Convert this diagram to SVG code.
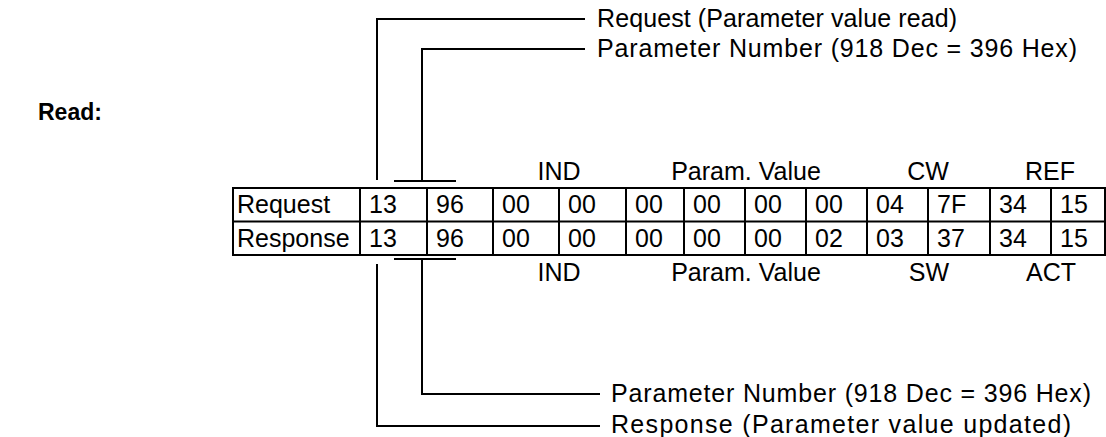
<svg xmlns="http://www.w3.org/2000/svg" width="1106" height="437" viewBox="0 0 1106 437">
<style>
text{font-family:"Liberation Sans",Arial,sans-serif;font-size:25px;fill:#000}
.b{font-weight:bold;font-size:23px}
.m{text-anchor:middle}
.ln{fill:none;stroke:#000;stroke-width:2}
</style>
<rect width="1106" height="437" fill="#fff"/>
<g id="title"><text class="b" x="38" y="120">Read:</text></g>
<g id="table">
<rect class="ln" x="233" y="188" width="872" height="67"/>
<path class="ln" d="M233,221.5H1105M360,188V255M427,188V255M493,188V255M559,188V255M626,188V255M684,188V255M745,188V255M806,188V255M867,188V255M928,188V255M990,188V255M1051,188V255"/>
<g id="row-request">
<text x="237" y="213">Request</text>
<text x="369" y="213">13</text><text x="436" y="213">96</text><text x="502" y="213">00</text><text x="568" y="213">00</text><text x="635" y="213">00</text><text x="693" y="213">00</text><text x="754" y="213">00</text><text x="815" y="213">00</text><text x="876" y="213">04</text><text x="937" y="213">7F</text><text x="999" y="213">34</text><text x="1060" y="213">15</text>
</g>
<g id="row-response">
<text x="237" y="247">Response</text>
<text x="369" y="247">13</text><text x="436" y="247">96</text><text x="502" y="247">00</text><text x="568" y="247">00</text><text x="635" y="247">00</text><text x="693" y="247">00</text><text x="754" y="247">00</text><text x="815" y="247">02</text><text x="876" y="247">03</text><text x="937" y="247">37</text><text x="999" y="247">34</text><text x="1060" y="247">15</text>
</g>
</g>
<g id="upper-labels">
<text class="m" x="559" y="180">IND</text>
<text class="m" x="746" y="180">Param. Value</text>
<text class="m" x="928" y="180">CW</text>
<text class="m" x="1050" y="180">REF</text>
</g>
<g id="lower-labels">
<text class="m" x="559" y="281">IND</text>
<text class="m" x="746" y="281">Param. Value</text>
<text class="m" x="929" y="281">SW</text>
<text class="m" x="1051" y="281">ACT</text>
</g>
<g id="connectors">
<path class="ln" d="M585,19H377V180"/>
<path class="ln" d="M585,49H422V181M394,181H456"/>
<path class="ln" d="M394,259H456M422,259V394H600"/>
<path class="ln" d="M377,264V426H600"/>
</g>
<g id="annotations">
<text x="597" y="27" textLength="360" lengthAdjust="spacing">Request (Parameter value read)</text>
<text x="597" y="57" textLength="480" lengthAdjust="spacing">Parameter Number (918 Dec = 396 Hex)</text>
<text x="611" y="402" textLength="480" lengthAdjust="spacing">Parameter Number (918 Dec = 396 Hex)</text>
<text x="611" y="433" textLength="460" lengthAdjust="spacing">Response (Parameter value updated)</text>
</g>
</svg>
